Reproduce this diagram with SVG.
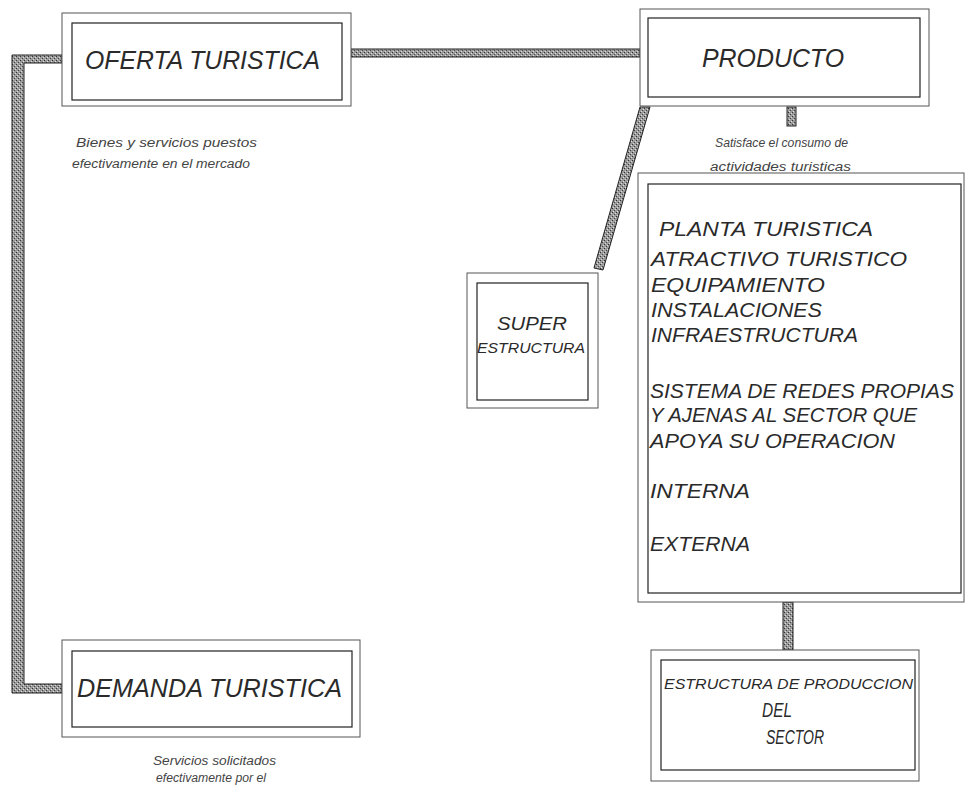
<svg xmlns="http://www.w3.org/2000/svg" width="965" height="785" viewBox="0 0 965 785">
<defs>
<pattern id="hatch" width="4" height="4" patternUnits="userSpaceOnUse">
<rect width="4" height="4" fill="#9a9a9a"/>
<rect x="0" y="0" width="1" height="1" fill="#333"/>
<rect x="2" y="2" width="1" height="1" fill="#444"/>
<rect x="1" y="3" width="1" height="1" fill="#dcdcdc"/>
<rect x="3" y="1" width="1" height="1" fill="#dcdcdc"/>
</pattern>
</defs>
<style>
.outer{fill:#fff;stroke:#555;stroke-width:1}
.inner{fill:none;stroke:#222;stroke-width:1.2}
.bar{fill:url(#hatch);stroke:#222;stroke-width:1}
text{font-family:"Liberation Sans",Arial,sans-serif;font-style:italic;fill:#2a2a2a}
.t25{font-size:25px}
.t21{font-size:21px}
.small{font-size:12px;fill:#444}
</style>
<rect width="965" height="785" fill="#fff"/>
<g id="connectors">
<path class="bar" d="M12,55 H62 V63 H24 V684 H62 V693 H12 Z"/>
<rect class="bar" x="351" y="49" width="289" height="8"/>
<rect class="bar" x="787" y="107" width="9" height="19"/>
<polygon class="bar" points="640,107 650,107 603,270 594,268"/>
<rect class="bar" x="783" y="602" width="10" height="48"/>
</g>
<g id="oferta">
<rect class="outer" x="62" y="13" width="289" height="93"/>
<rect class="inner" x="72" y="23" width="270" height="77"/>
<text class="t25" x="85" y="69" textLength="235" lengthAdjust="spacingAndGlyphs">OFERTA TURISTICA</text>
</g>
<g id="oferta-desc">
<text class="small" x="76" y="147" textLength="181" lengthAdjust="spacingAndGlyphs">Bienes y servicios puestos</text>
<text class="small" x="72" y="168" textLength="178" lengthAdjust="spacingAndGlyphs">efectivamente en el mercado</text>
</g>
<g id="producto">
<rect class="outer" x="640" y="9" width="289" height="97"/>
<rect class="inner" x="648" y="18" width="272" height="79"/>
<text class="t25" x="702" y="67" textLength="142" lengthAdjust="spacingAndGlyphs">PRODUCTO</text>
</g>
<g id="producto-desc">
<text class="small" x="715" y="147" textLength="133" lengthAdjust="spacingAndGlyphs">Satisface el consumo de</text>
<text class="small" x="710" y="171" textLength="141" lengthAdjust="spacingAndGlyphs">actividades turisticas</text>
</g>
<g id="super">
<rect class="outer" x="467" y="273" width="131" height="135"/>
<rect class="inner" x="477" y="283" width="111" height="117"/>
<text x="497" y="330" font-size="18" textLength="70" lengthAdjust="spacingAndGlyphs">SUPER</text>
<text x="477" y="353" font-size="14" textLength="108" lengthAdjust="spacingAndGlyphs">ESTRUCTURA</text>
</g>
<g id="planta">
<rect class="outer" x="638" y="173" width="326" height="429"/>
<rect class="inner" x="648" y="184" width="313" height="409"/>
<text class="t21" x="659" y="236" textLength="214" lengthAdjust="spacingAndGlyphs">PLANTA TURISTICA</text>
<text class="t21" x="651" y="266" textLength="256" lengthAdjust="spacingAndGlyphs">ATRACTIVO TURISTICO</text>
<text class="t21" x="651" y="292" textLength="174" lengthAdjust="spacingAndGlyphs">EQUIPAMIENTO</text>
<text class="t21" x="651" y="317" textLength="171" lengthAdjust="spacingAndGlyphs">INSTALACIONES</text>
<text class="t21" x="651" y="342" textLength="207" lengthAdjust="spacingAndGlyphs">INFRAESTRUCTURA</text>
<text class="t21" x="650" y="398" textLength="304" lengthAdjust="spacingAndGlyphs">SISTEMA DE REDES PROPIAS</text>
<text class="t21" x="650" y="422" textLength="267" lengthAdjust="spacingAndGlyphs">Y AJENAS AL SECTOR QUE</text>
<text class="t21" x="650" y="448" textLength="245" lengthAdjust="spacingAndGlyphs">APOYA SU OPERACION</text>
<text class="t21" x="650" y="498" textLength="100" lengthAdjust="spacingAndGlyphs">INTERNA</text>
<text class="t21" x="650" y="551" textLength="100" lengthAdjust="spacingAndGlyphs">EXTERNA</text>
</g>
<g id="estructura">
<rect class="outer" x="651" y="650" width="268" height="131"/>
<rect class="inner" x="661" y="660" width="254" height="110"/>
<text x="664" y="689" font-size="14" textLength="249" lengthAdjust="spacingAndGlyphs">ESTRUCTURA DE PRODUCCION</text>
<text x="762" y="717" font-size="21" textLength="30" lengthAdjust="spacingAndGlyphs">DEL</text>
<text x="766" y="744" font-size="20" textLength="58" lengthAdjust="spacingAndGlyphs">SECTOR</text>
</g>
<g id="demanda">
<rect class="outer" x="62" y="640" width="298" height="97"/>
<rect class="inner" x="72" y="651" width="280" height="76"/>
<text class="t25" x="77" y="697" textLength="265" lengthAdjust="spacingAndGlyphs">DEMANDA TURISTICA</text>
</g>
<g id="demanda-desc">
<text class="small" x="153" y="765" textLength="123" lengthAdjust="spacingAndGlyphs">Servicios solicitados</text>
<text class="small" x="156" y="782" textLength="110" lengthAdjust="spacingAndGlyphs">efectivamente por el</text>
</g>
</svg>
